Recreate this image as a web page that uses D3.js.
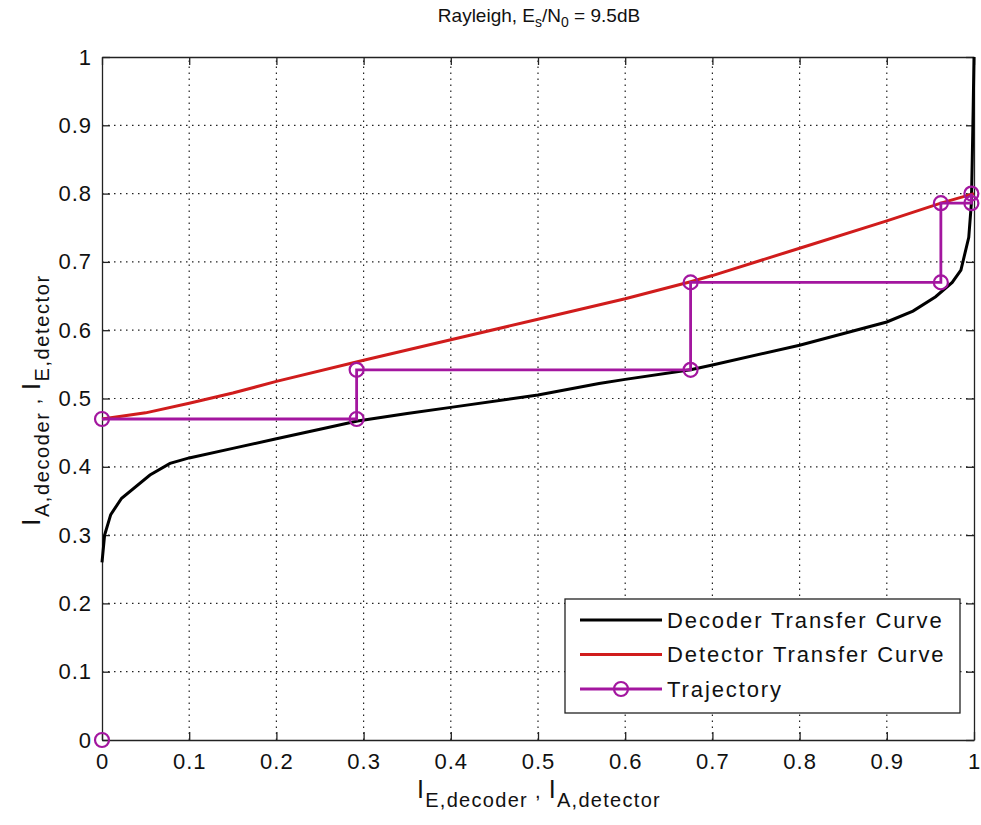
<!DOCTYPE html>
<html>
<head>
<meta charset="utf-8">
<script src="https://cdn.jsdelivr.net/npm/d3@7"></script>
<style>
  body { margin: 0; background: #fff; }
  svg text { font-family: "Liberation Sans", Arial, sans-serif; fill: #111; }
</style>
</head>
<body>
<div id="chart"></div>
<script>
// decoder transfer curve (x = I_E,decoder, y = I_A,decoder)
var decoderX = [0, 0.003, 0.01, 0.0225, 0.055, 0.078, 0.1, 0.15, 0.2, 0.25, 0.293, 0.35, 0.4, 0.5, 0.57, 0.6, 0.675, 0.7, 0.8, 0.9, 0.93, 0.956, 0.975, 0.985, 0.994, 0.997, 0.998, 0.999, 1];
var decoderY = [0.26, 0.30, 0.33, 0.354, 0.388, 0.405, 0.413, 0.427, 0.441, 0.455, 0.467, 0.478, 0.487, 0.505, 0.522, 0.528, 0.542, 0.549, 0.578, 0.612, 0.628, 0.649, 0.67, 0.688, 0.736, 0.786, 0.85, 0.92, 1];

// detector transfer curve
var detectorX = [0, 0.05, 0.1, 0.15, 0.2, 0.3, 0.4, 0.5, 0.6, 0.675, 0.7, 0.8, 0.9, 0.962, 1];
var detectorY = [0.47, 0.479, 0.493, 0.508, 0.525, 0.556, 0.586, 0.616, 0.646, 0.671, 0.68, 0.72, 0.76, 0.786, 0.80];

// trajectory
var trajX = [0, 0.292, 0.292, 0.675, 0.675, 0.962, 0.962, 0.997, 0.997];
var trajY = [0.47, 0.47, 0.542, 0.542, 0.67, 0.67, 0.786, 0.786, 0.80];
var startPoint = [0, 0];

var ticks = [0, 0.1, 0.2, 0.3, 0.4, 0.5, 0.6, 0.7, 0.8, 0.9, 1];
var legendNames = ["Decoder Transfer Curve", "Detector Transfer Curve", "Trajectory"];

var width = 981, height = 825;
var colDecoder = "#000000", colDetector = "#d01c1c", colTraj = "#a3169f";

var svg = d3.select("#chart").append("svg")
    .attr("width", width)
    .attr("height", height);

var x = d3.scaleLinear().domain([0, 1]).range([102, 974]);
var y = d3.scaleLinear().domain([0, 1]).range([740, 57]);

// background
svg.append("rect")
    .attr("x", x(0)).attr("y", y(1))
    .attr("width", x(1) - x(0)).attr("height", y(0) - y(1))
    .attr("fill", "#fff");

// dotted grid
var grid = svg.append("g").attr("stroke", "#222").attr("stroke-width", 1.2)
    .attr("stroke-dasharray", "1.5,4.5");
grid.selectAll(".gx").data(ticks.slice(1, -1)).enter().append("line")
    .attr("x1", function (d) { return x(d); }).attr("x2", function (d) { return x(d); })
    .attr("y1", y(0)).attr("y2", y(1));
grid.selectAll(".gy").data(ticks.slice(1, -1)).enter().append("line")
    .attr("y1", function (d) { return y(d); }).attr("y2", function (d) { return y(d); })
    .attr("x1", x(0)).attr("x2", x(1));

// axes (inside ticks on all four sides)
var fmt = function (d) { return d === 0 || d === 1 ? String(d) : d3.format(".1f")(d); };

var xAxis = svg.append("g")
    .attr("transform", "translate(0," + y(0) + ")")
    .call(d3.axisBottom(x).tickValues(ticks).tickFormat(fmt).tickSizeInner(-8).tickSizeOuter(0).tickPadding(13));
var yAxis = svg.append("g")
    .attr("transform", "translate(" + x(0) + ",0)")
    .call(d3.axisLeft(y).tickValues(ticks).tickFormat(fmt).tickSizeInner(-8).tickSizeOuter(0).tickPadding(10));
svg.append("g")
    .attr("transform", "translate(0," + y(1) + ")")
    .call(d3.axisTop(x).tickValues(ticks).tickFormat("").tickSizeInner(-8).tickSizeOuter(0));
svg.append("g")
    .attr("transform", "translate(" + x(1) + ",0)")
    .call(d3.axisRight(y).tickValues(ticks).tickFormat("").tickSizeInner(-8).tickSizeOuter(0));

svg.selectAll(".domain, .tick line").attr("stroke", "#222").attr("stroke-width", 1.3);
xAxis.selectAll("text").attr("font-size", 22).attr("letter-spacing", 1).attr("fill", "#111");
yAxis.selectAll("text").attr("font-size", 22).attr("letter-spacing", 1).attr("fill", "#111");

// curves
var line = d3.line()
    .x(function (d) { return x(d[0]); })
    .y(function (d) { return y(d[1]); });

var decoder = d3.zip(decoderX, decoderY);
var detector = d3.zip(detectorX, detectorY);
var traj = d3.zip(trajX, trajY);

svg.append("path").datum(decoder)
    .attr("d", line).attr("fill", "none")
    .attr("stroke", colDecoder).attr("stroke-width", 3);

svg.append("path").datum(detector)
    .attr("d", line).attr("fill", "none")
    .attr("stroke", colDetector).attr("stroke-width", 3);

svg.append("path").datum(traj)
    .attr("d", line).attr("fill", "none")
    .attr("stroke", colTraj).attr("stroke-width", 2.8);

svg.selectAll(".marker").data(traj.concat([startPoint])).enter().append("circle")
    .attr("cx", function (d) { return x(d[0]); })
    .attr("cy", function (d) { return y(d[1]); })
    .attr("r", 7)
    .attr("fill", "none")
    .attr("stroke", colTraj)
    .attr("stroke-width", 2.2);

// title
var title = svg.append("text")
    .attr("x", 539).attr("y", 22)
    .attr("text-anchor", "middle")
    .attr("font-size", 19);
title.append("tspan").text("Rayleigh, E");
title.append("tspan").attr("font-size", 14).attr("dy", 5).text("s");
title.append("tspan").attr("dy", -5).text("/N");
title.append("tspan").attr("font-size", 14).attr("dy", 5).text("0");
title.append("tspan").attr("dy", -5).text(" = 9.5dB");

// axis labels
function subLabel(sel, parts) {
    parts.forEach(function (p) {
        var t = sel.append("tspan").text(p[0]);
        if (p[1]) t.attr("font-size", 20).attr("dy", p[1]);
    });
}
var xl = svg.append("text")
    .attr("x", 539).attr("y", 798)
    .attr("text-anchor", "middle")
    .attr("font-size", 25)
    .attr("letter-spacing", 1.3);
subLabel(xl, [["I", 0], ["E,decoder", 9], [" , ", -9], ["I", 0], ["A,detector", 9]]);

var yl = svg.append("text")
    .attr("transform", "translate(40,400) rotate(-90)")
    .attr("text-anchor", "middle")
    .attr("font-size", 25)
    .attr("letter-spacing", 1.6);
subLabel(yl, [["I", 0], ["A,decoder", 9], [" , ", -9], ["I", 0], ["E,detector", 9]]);

// legend
var lg = svg.append("g");
lg.append("rect")
    .attr("x", 565).attr("y", 599).attr("width", 395).attr("height", 114)
    .attr("fill", "#fff").attr("stroke", "#222").attr("stroke-width", 1.3);

var legendColors = [colDecoder, colDetector, colTraj];
var row = lg.selectAll(".row").data(legendNames).enter().append("g")
    .attr("transform", function (d, i) { return "translate(0," + (620 + i * 34.5) + ")"; });
row.append("line")
    .attr("x1", 580).attr("x2", 662)
    .attr("stroke", function (d, i) { return legendColors[i]; })
    .attr("stroke-width", function (d, i) { return i === 2 ? 2.8 : 3; });
row.filter(function (d, i) { return i === 2; }).append("circle")
    .attr("cx", 621).attr("r", 7)
    .attr("fill", "none").attr("stroke", colTraj).attr("stroke-width", 2.2);
row.append("text")
    .attr("x", 667).attr("dy", "0.36em")
    .attr("font-size", 22).attr("letter-spacing", 1.9)
    .text(function (d) { return d; });
</script>
</body>
</html>
